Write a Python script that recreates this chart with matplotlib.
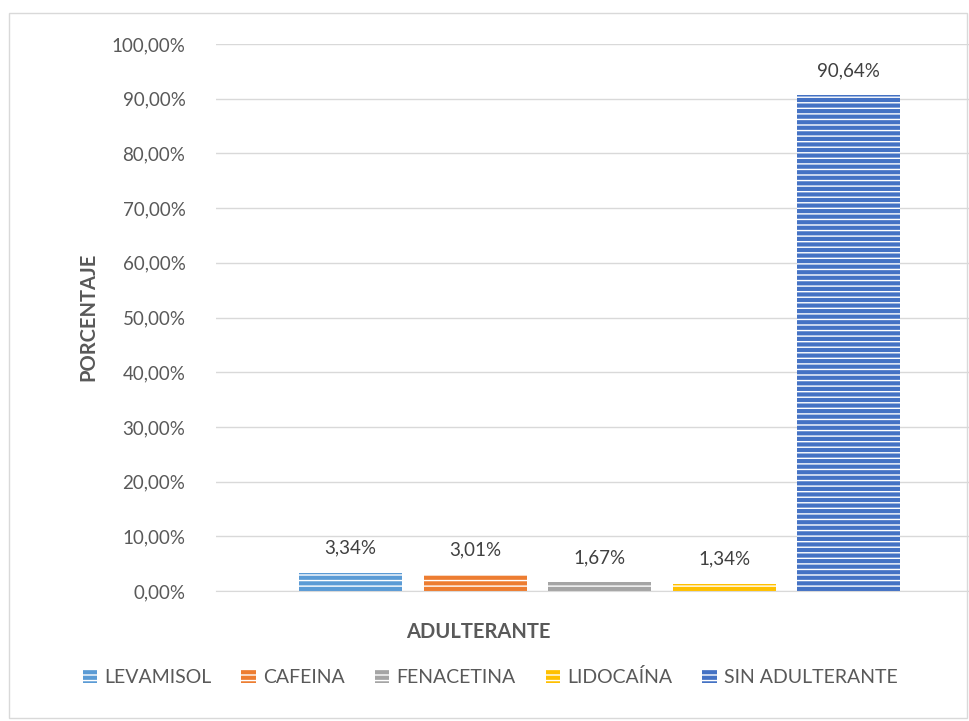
import matplotlib
matplotlib.use("Agg")
import matplotlib.pyplot as plt
from matplotlib.patches import Rectangle, Patch
from matplotlib.ticker import FuncFormatter

categories = ["LEVAMISOL", "CAFEINA", "FENACETINA", "LIDOCAÍNA", "SIN ADULTERANTE"]
values = [3.34, 3.01, 1.67, 1.34, 90.64]
colors = ["#5B9BD5", "#ED7D31", "#A5A5A5", "#FFC000", "#4472C4"]
yticks = [0, 10, 20, 30, 40, 50, 60, 70, 80, 90, 100]

plt.rcParams['font.family'] = ['Lato', 'DejaVu Sans']
plt.rcParams['hatch.linewidth'] = 1.0

W, H = 969, 721
fig = plt.figure(figsize=(W / 100, H / 100), dpi=100)
fig.patches.append(Rectangle((9 / W, 1 - 718 / H), (967 - 9) / W, (718 - 13) / H,
                             transform=fig.transFigure, fill=False,
                             edgecolor="#D9D9D9", linewidth=1.0, zorder=0))

ax = fig.add_axes([216 / W, 1 - 591 / H, (969 - 216) / W, 547 / H])
ax.set_facecolor("none")
xs = list(range(len(categories)))
bars = ax.bar(xs, values, width=103 / 124.5, color=colors, edgecolor="white",
              linewidth=0, hatch="---", zorder=3)

for x, v in zip(xs, values):
    ax.annotate(f"{v:.2f}%".replace(".", ","), (x, v), xytext=(0, 11.5),
                textcoords="offset points", ha="center", va="bottom",
                fontsize=13.5, color="#404040")

ax.set_xlim((216 - 350.5) / 124.5, (969 - 350.5) / 124.5)
ax.set_ylim(0, 100)
ax.set_yticks(yticks)
ax.yaxis.set_major_formatter(FuncFormatter(lambda v, p: f"{v:.2f}%".replace(".", ",")))
ax.tick_params(axis="y", length=0, pad=22, labelsize=13.5, labelcolor="#595959")
ax.set_xticks([])
ax.grid(axis="y", color="#D9D9D9", linewidth=1.0, zorder=0)
for s in ax.spines.values():
    s.set_visible(False)
ax.spines["bottom"].set_visible(True)
ax.spines["bottom"].set_color("#D9D9D9")

fig.text(478 / W, 1 - 632 / H, "ADULTERANTE", ha="center", va="center",
         fontsize=14.5, fontweight="bold", color="#595959")
fig.text(88 / W, 1 - 317 / H, "PORCENTAJE", ha="center", va="center",
         rotation=90, fontsize=14.5, fontweight="bold", color="#595959")

handles = [Patch(facecolor=c, edgecolor="white", linewidth=0, hatch="---") for c in colors]
fig.legend(handles, categories, loc="center", bbox_to_anchor=(490 / W, 1 - 677 / H),
           ncol=5, frameon=False, fontsize=14, labelcolor="#595959",
           handlelength=0.75, handleheight=0.75, handletextpad=0.35, columnspacing=1.55)

fig.savefig("out.png", dpi=100)
